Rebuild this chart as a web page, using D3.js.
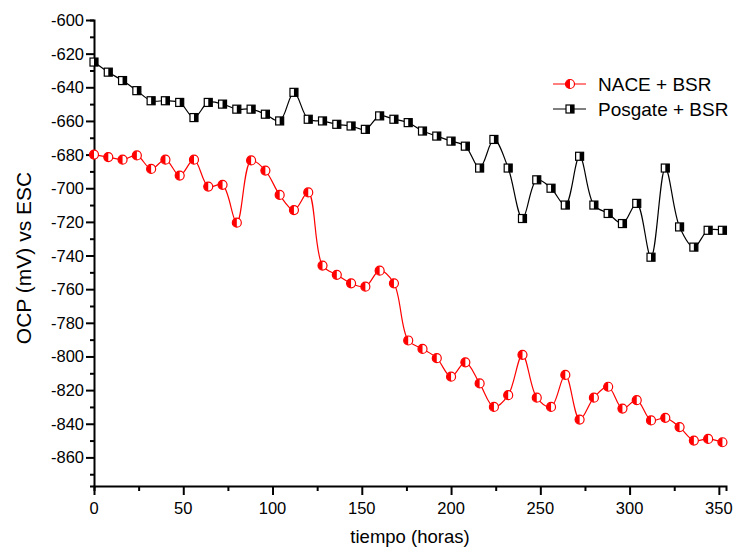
<!DOCTYPE html>
<html>
<head>
<meta charset="utf-8">
<script src="https://cdn.jsdelivr.net/npm/d3@7"></script>
<style>
  body { margin: 0; background: #ffffff; }
  text { font-family: "Liberation Sans", Arial, sans-serif; fill: #000; }
</style>
</head>
<body>
<script>
// data (hours every 8 h, OCP in mV)
var tiempo = [0, 8, 16, 24, 32, 40, 48, 56, 64, 72, 80, 88, 96, 104, 112, 120, 128, 136, 144, 152,
              160, 168, 176, 184, 192, 200, 208, 216, 224, 232, 240, 248, 256, 264, 272, 280, 288,
              296, 304, 312, 320, 328, 336, 344, 352];
var nace = [-680, -681.5, -683, -680.5, -688.5, -683, -692.5, -683, -699, -698,
            -720.5, -683.5, -689.5, -704, -713, -702.5, -746, -751.5, -756.5, -758.5,
            -749, -756.5, -790.5, -795.5, -801, -812, -803.5, -816, -830, -823,
            -799, -824.5, -830, -811, -837.5, -824.5, -818, -831, -826, -838,
            -836.5, -842, -850, -849, -851];
var posgate = [-625, -631, -636, -642, -648, -648, -649, -658, -649, -650,
               -653, -653, -656, -660, -643, -659, -660, -662, -663, -665,
               -657, -659, -661, -666, -669, -672, -675, -688, -671, -688,
               -718, -695, -700, -710, -681, -710, -715, -721, -709, -741,
               -688, -723, -735, -725, -725];
var xTicks = [0, 50, 100, 150, 200, 250, 300, 350];
var yTicks = [-600, -620, -640, -660, -680, -700, -720, -740, -760, -780, -800, -820, -840, -860];
var seriesNames = ["NACE + BSR", "Posgate + BSR"];

var width = 741, height = 549;

var svg = d3.select("body")
    .append("svg")
    .attr("width", width)
    .attr("height", height);

var x = d3.scaleLinear().domain([0, 354]).range([94, 726]);
var y = d3.scaleLinear().domain([-877, -600]).range([486, 20]);

// x axis
var xAxis = svg.append("g")
    .attr("transform", "translate(0," + y(-877) + ")")
    .call(d3.axisBottom(x).tickValues(d3.range(0, 355, 25)).tickSize(5).tickFormat(""));
xAxis.selectAll(".tick line").filter(function(d) { return d % 50 === 0; }).attr("y2", 9);
xAxis.select(".domain").attr("stroke-width", 2);
xAxis.selectAll(".tick line").attr("stroke-width", 2);

svg.selectAll(".xlab")
    .data(xTicks)
    .enter().append("text")
    .attr("x", function(d) { return x(d); })
    .attr("y", 514)
    .attr("text-anchor", "middle")
    .style("font-size", "16.5px")
    .text(function(d) { return d; });

// y axis
var yAxis = svg.append("g")
    .attr("transform", "translate(" + x(0) + ",0)")
    .call(d3.axisLeft(y).tickValues(d3.range(-600, -877, -10)).tickSize(4).tickFormat(""));
yAxis.selectAll(".tick line").filter(function(d) { return d % 20 === 0; }).attr("x2", -8);
yAxis.select(".domain").attr("stroke-width", 2);
yAxis.selectAll(".tick line").attr("stroke-width", 2);

svg.selectAll(".ylab")
    .data(yTicks)
    .enter().append("text")
    .attr("x", 84)
    .attr("y", function(d) { return y(d) + 6; })
    .attr("text-anchor", "end")
    .style("font-size", "16.5px")
    .text(function(d) { return d; });

// axis titles
svg.append("text")
    .attr("x", 410)
    .attr("y", 543)
    .attr("text-anchor", "middle")
    .style("font-size", "18.5px")
    .text("tiempo (horas)");

svg.append("text")
    .attr("transform", "translate(31," + 258 + ") rotate(-90)")
    .attr("text-anchor", "middle")
    .style("font-size", "21px")
    .text("OCP (mV) vs ESC");

var line = d3.line()
    .x(function(d) { return x(d[0]); })
    .y(function(d) { return y(d[1]); })
    .curve(d3.curveCatmullRom.alpha(0.5));

var redData = tiempo.map(function(t, i) { return [t, nace[i]]; });
var blackData = tiempo.map(function(t, i) { return [t, posgate[i]]; });

svg.append("path").datum(blackData)
    .attr("d", line).attr("fill", "none").attr("stroke", "#000").attr("stroke-width", 1.2);
svg.append("path").datum(redData)
    .attr("d", line).attr("fill", "none").attr("stroke", "#ff0000").attr("stroke-width", 1.2);

// half filled circle marker
function circleMarker(g, cx, cy) {
    g.append("circle").attr("cx", cx).attr("cy", cy).attr("r", 4.5)
        .attr("fill", "#fff").attr("stroke", "#ff0000").attr("stroke-width", 1.2);
    g.append("path")
        .attr("d", "M" + cx + "," + (cy - 4.5) + " A4.5,4.5 0 0,0 " + cx + "," + (cy + 4.5) + " Z")
        .attr("fill", "#ff0000");
}
// half filled square marker
function squareMarker(g, cx, cy) {
    g.append("rect").attr("x", cx - 4).attr("y", cy - 4).attr("width", 8).attr("height", 8)
        .attr("fill", "#fff").attr("stroke", "#000").attr("stroke-width", 1.2);
    g.append("rect").attr("x", cx).attr("y", cy - 4).attr("width", 4).attr("height", 8)
        .attr("fill", "#000");
}

var marks = svg.append("g");
blackData.forEach(function(d) { squareMarker(marks, x(d[0]), y(d[1])); });
redData.forEach(function(d) { circleMarker(marks, x(d[0]), y(d[1])); });

// legend
var leg = svg.append("g");
leg.append("line").attr("x1", 553).attr("x2", 586).attr("y1", 84).attr("y2", 84)
    .attr("stroke", "#ff0000").attr("stroke-width", 1.2);
circleMarker(leg, 570, 84);
leg.append("text").attr("x", 598).attr("y", 91).style("font-size", "19px").text(seriesNames[0]);
leg.append("line").attr("x1", 553).attr("x2", 586).attr("y1", 109).attr("y2", 109)
    .attr("stroke", "#000").attr("stroke-width", 1.2);
squareMarker(leg, 570, 109);
leg.append("text").attr("x", 598).attr("y", 116).style("font-size", "19px").text(seriesNames[1]);
</script>
</body>
</html>
